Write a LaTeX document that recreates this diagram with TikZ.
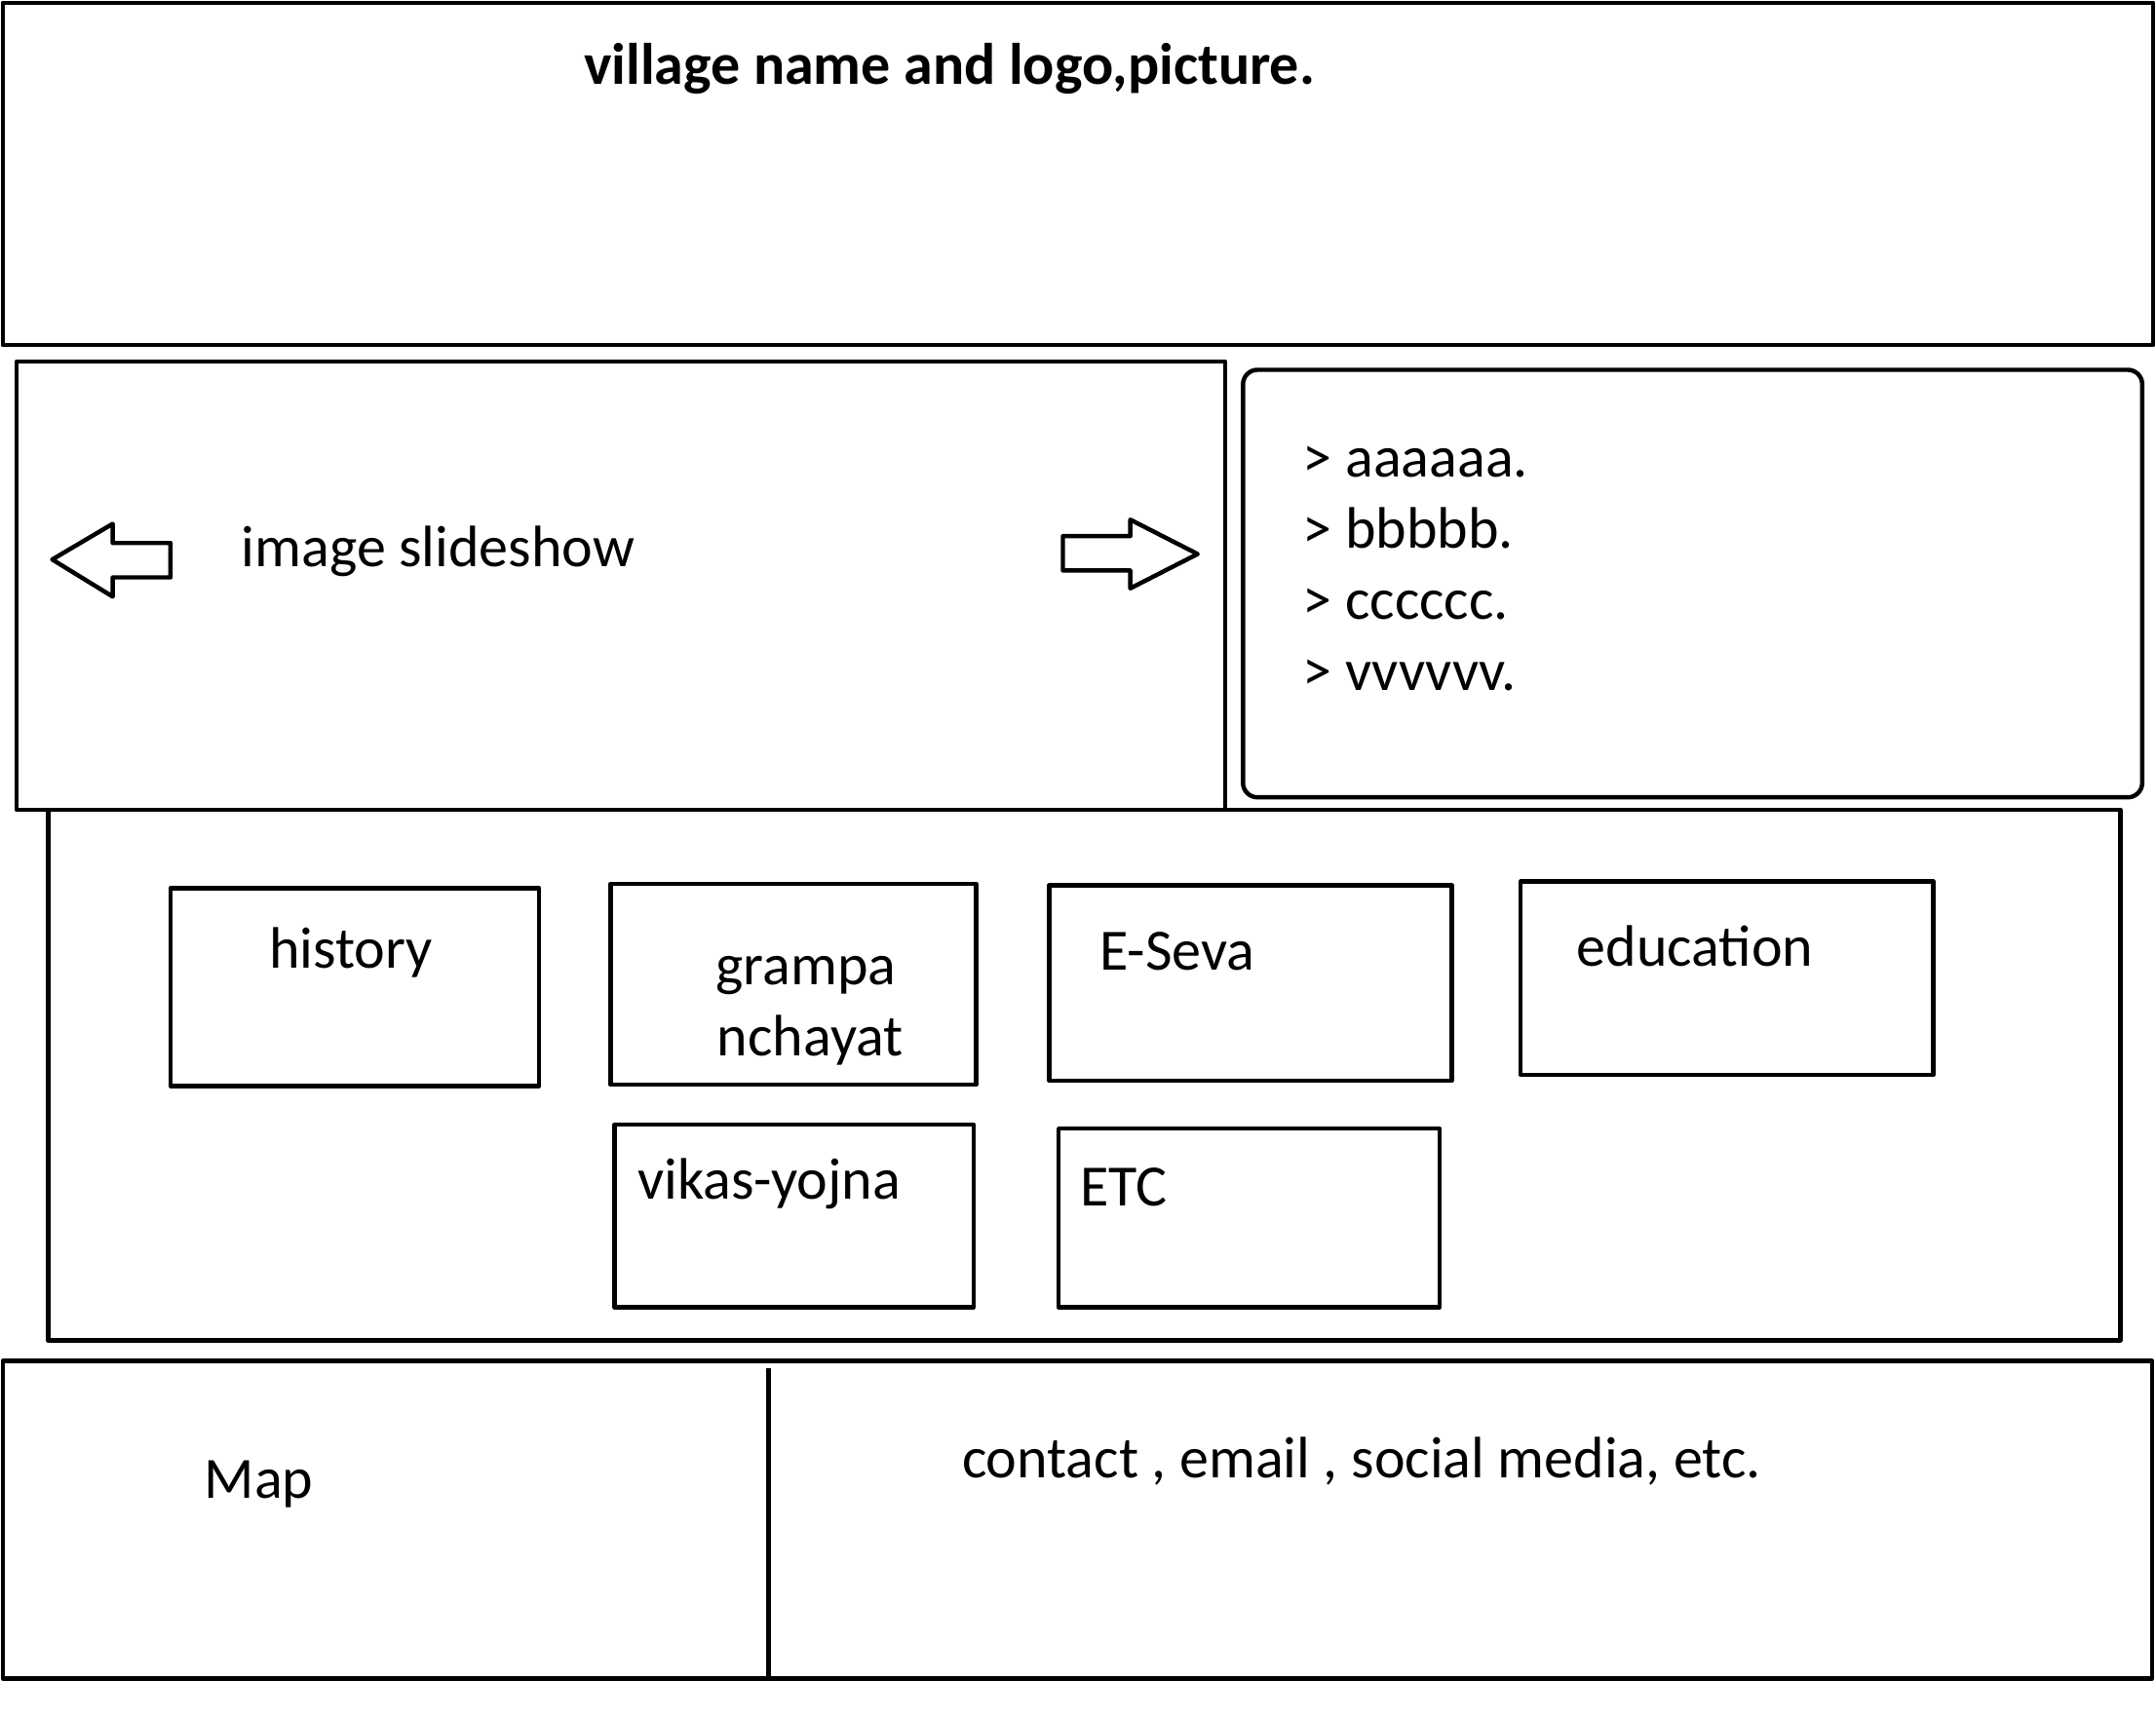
\documentclass[tikz,border=0pt]{standalone}
\usepackage{fontspec}
\setmainfont{Carlito}
\usetikzlibrary{positioning}
\tikzstyle{frame} = [draw=black, line width=0.9pt]
\tikzstyle{txt} = [inner sep=0pt, anchor=base west, font=\fontsize{12.1}{14.7}\selectfont]
\tikzstyle{txtbold} = [txt, font=\fontsize{12.1}{14.7}\selectfont\bfseries]

\begin{document}
\begin{tikzpicture}[x=0.01cm, y=-0.01cm, line join=round]
	\useasboundingbox (0,0) rectangle (1568,1250.4);
	% header
	\draw[frame] (2,2) rectangle (1566,251);
	\node[txtbold] (title) at (424,61) {village name and logo,picture.};
	% slideshow
	\draw[frame] (12,263) rectangle (891,589);
	\draw[frame] (38,407) -- (82,381) -- (82,395) -- (124,395) -- (124,420) -- (82,420) -- (82,434) -- cycle;
	\draw[frame] (773,390) -- (822,390) -- (822,378) -- (871,403) -- (822,428) -- (822,415) -- (773,415) -- cycle;
	\node[txt] (slides) at (175,412) {image slideshow};
	% news list
	\draw[frame, rounded corners=3pt] (904,269) rectangle (1558,580);
	\foreach \item [count=\i from 0] in {aaaaaa.,bbbbb.,cccccc.,vvvvvv.}
		\node[txt] (item\i) at (947,347.3+51.6*\i) {> \item};
	% menu
	\draw[frame] (35,589) rectangle (1542,975);
	\draw[frame] (124,646) rectangle (392,790);
	\node[txt] (history) at (195,704) {history};
	\draw[frame] (444,643) rectangle (710,789);
	\node[txt] (gram) at (520,716) {grampa};
	\node[txt] (nchay) at (521,768) {nchayat};
	\draw[frame] (763,644) rectangle (1056,786);
	\node[txt] (eseva) at (799,706) {E-Seva};
	\draw[frame] (1106,641) rectangle (1406,782);
	\node[txt] (edu) at (1146,703) {education};
	\draw[frame] (447,818) rectangle (708,951);
	\node[txt] (vikas) at (463,872) {vikas-yojna};
	\draw[frame] (770,821) rectangle (1047,951);
	\node[txt] (etc) at (785,877) {ETC};
	% footer
	\draw[frame] (2,990) rectangle (1565,1221);
	\draw[frame] (559,995) -- (559,1221);
	\node[txt] (map) at (148,1090) {Map};
	\node[txt] (contact) at (699,1075) {contact , email , social media, etc.};
\end{tikzpicture}
\end{document}
